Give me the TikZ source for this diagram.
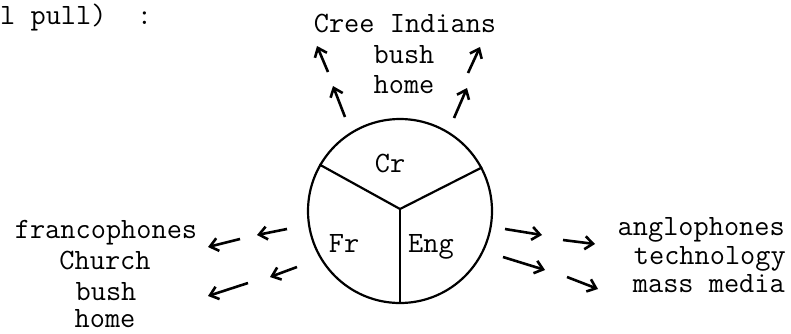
\documentclass[tikz,border=0pt]{standalone}
\usetikzlibrary{arrows.meta}
\begin{document}
\begin{tikzpicture}[x=1pt,y=-1pt,
  txt/.style={font=\ttfamily\fontsize{29.5}{34}\selectfont, inner sep=0pt, anchor=base},
  arr/.style={line width=2.6pt, -{Straight Barb[length=8pt,width=13pt]}},
  spoke/.style={line width=2.2pt}]
\useasboundingbox (0,0) rectangle (791,333);
% header fragment
\node[txt, anchor=base west] (hdr) at (0,24) {l pull)\ \ :};
% central circle
\node[circle, draw, line width=2.2pt, minimum size=184pt, inner sep=0pt] (c) at (400,211) {};
\coordinate (j) at (400,209);
\draw[spoke] (j) -- (c.150);
\draw[spoke] (j) -- (c.28);
\draw[spoke] (j) -- (c.south);
\node[txt] (cr) at (390,172) {Cr};
\node[txt] (fr) at (344,252) {Fr};
\node[txt] (eng) at (431,252) {Eng};
% top texts
\node[txt] (cree) at (405,32) {Cree Indians};
\node[txt] (tbush) at (404,63) {bush};
\node[txt] (thome) at (404,93) {home};
% left texts
\node[txt] (franc) at (106,238) {francophones};
\node[txt] (church) at (105,269) {Church};
\node[txt] (lbush) at (106,300) {bush};
\node[txt] (lhome) at (105,327) {home};
% right texts
\node[txt, anchor=base east] (angl) at (785,235) {anglophones};
\node[txt, anchor=base east] (tech) at (786,264) {technology};
\node[txt, anchor=base east] (mass) at (785,292) {mass media};
% top arrows
\coordinate (ta1) at (328,72); \coordinate (th1) at (317,46);
\coordinate (ta2) at (345,117); \coordinate (th2) at (333,86);
\coordinate (ta3) at (468,73); \coordinate (th3) at (480,47);
\coordinate (ta4) at (454,118); \coordinate (th4) at (467,88);
\draw[arr] (ta1) -- (th1);
\draw[arr] (ta2) -- (th2);
\draw[arr] (ta3) -- (th3);
\draw[arr] (ta4) -- (th4);
% left arrows
\coordinate (la1) at (240,239); \coordinate (lh1) at (208,247);
\coordinate (la2) at (287,229); \coordinate (lh2) at (257,235);
\coordinate (la3) at (297,267); \coordinate (lh3) at (270,277);
\coordinate (la4) at (248,283); \coordinate (lh4) at (208,296);
\draw[arr] (la1) -- (lh1);
\draw[arr] (la2) -- (lh2);
\draw[arr] (la3) -- (lh3);
\draw[arr] (la4) -- (lh4);
% right arrows
\coordinate (ra1) at (505,229); \coordinate (rh1) at (542,235);
\coordinate (ra2) at (563,240); \coordinate (rh2) at (595,244);
\coordinate (ra3) at (503,257); \coordinate (rh3) at (545,270);
\coordinate (ra4) at (567,277); \coordinate (rh4) at (598,289);
\draw[arr] (ra1) -- (rh1);
\draw[arr] (ra2) -- (rh2);
\draw[arr] (ra3) -- (rh3);
\draw[arr] (ra4) -- (rh4);
\end{tikzpicture}
\end{document}
